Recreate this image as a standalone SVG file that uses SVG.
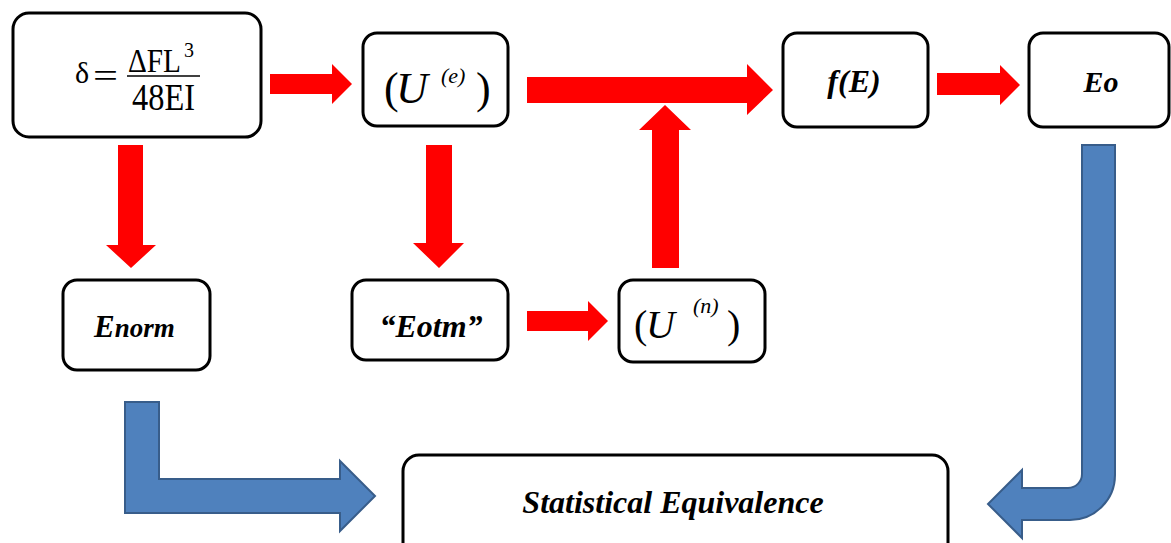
<svg xmlns="http://www.w3.org/2000/svg" width="1171" height="543" viewBox="0 0 1171 543">
<style>
.box{fill:#fff;stroke:#000;stroke-width:3}
.red{fill:#ff0000}
.blue{fill:#4f81bd;stroke:#385d8a;stroke-width:2;stroke-linejoin:miter}
.bi{font-weight:bold;font-style:italic}
.i{font-style:italic}
</style>
<rect width="1171" height="543" fill="#fff"/>
<g id="connectors">
<polygon class="red" points="270,74 332,74 332,64 352,84 332,104 332,94 270,94"/>
<polygon class="red" points="527,77 747,77 747,64 773,90 747,115 747,103 527,103"/>
<polygon class="red" points="937,73 1000,73 1000,65 1020,85 1000,105 1000,95 937,95"/>
<polygon class="red" points="118,145 143,145 143,245 156,245 131,268 106,245 118,245"/>
<polygon class="red" points="426,145 452,145 452,243 464,243 439,268 413,243 426,243"/>
<polygon class="red" points="527,311 588,311 588,301 608,321 588,341 588,331 527,331"/>
<polygon class="red" points="652,268 679,268 679,130 691,130 665,105 639,130 652,130"/>
<path class="blue" d="M125,402 L159,402 L159,479 L340,479 L340,461 L375,496 L340,531 L340,513 L125,513 Z"/>
<path class="blue" d="M1082,145 L1115,145 L1115,475 A45,45 0 0 1 1070,520 L1022,520 L1022,538 L988,504 L1022,470 L1022,488 L1068,488 A14,14 0 0 0 1082,474 Z"/>
</g>
<g id="node-formula" font-family="'Liberation Serif', 'DejaVu Serif', serif" fill="#000">
<rect class="box" x="13" y="13" width="248" height="124" rx="16"/>
<text x="75" y="83" font-size="30">δ</text>
<text x="93" y="87" font-size="34" textLength="25" lengthAdjust="spacingAndGlyphs">=</text>
<text x="128" y="72" font-size="33" textLength="53" lengthAdjust="spacingAndGlyphs">ΔFL</text>
<text x="184" y="57" font-size="22" textLength="10" lengthAdjust="spacingAndGlyphs">3</text>
<line x1="127" y1="76" x2="200" y2="76" stroke="#000" stroke-width="1.5"/>
<text x="132" y="110" font-size="38" textLength="63" lengthAdjust="spacingAndGlyphs">48EI</text>
</g>
<g id="node-ue" font-family="'Liberation Serif', 'DejaVu Serif', serif" fill="#000">
<rect class="box" x="363" y="33" width="145" height="93" rx="14"/>
<text x="384" y="103" font-size="44">(</text>
<text class="i" x="396" y="103" font-size="44">U</text>
<text class="i" x="441" y="83" font-size="22">(e)</text>
<text x="476" y="103" font-size="44">)</text>
</g>
<g id="node-fe" font-family="'Liberation Serif', 'DejaVu Serif', serif" fill="#000">
<rect class="box" x="783" y="33" width="145" height="94" rx="14"/>
<text class="bi" x="854" y="92" font-size="32" text-anchor="middle">f(E)</text>
</g>
<g id="node-eo" font-family="'Liberation Serif', 'DejaVu Serif', serif" fill="#000">
<rect class="box" x="1029" y="33" width="140" height="94" rx="14"/>
<text class="bi" x="1101" y="92" font-size="30" text-anchor="middle">Eo</text>
</g>
<g id="node-enorm" font-family="'Liberation Serif', 'DejaVu Serif', serif" fill="#000">
<rect class="box" x="63" y="280" width="147" height="90" rx="14"/>
<text class="bi" x="94" y="337" font-size="31">E<tspan font-size="27">norm</tspan></text>
</g>
<g id="node-eotm" font-family="'Liberation Serif', 'DejaVu Serif', serif" fill="#000">
<rect class="box" x="352" y="280" width="156" height="80" rx="14"/>
<text class="bi" x="431" y="337" font-size="32" text-anchor="middle">“Eotm”</text>
</g>
<g id="node-un" font-family="'Liberation Serif', 'DejaVu Serif', serif" fill="#000">
<rect class="box" x="619" y="280" width="146" height="82" rx="14"/>
<text x="634" y="338" font-size="40">(</text>
<text class="i" x="646" y="338" font-size="40">U</text>
<text class="i" x="693" y="313" font-size="22">(n)</text>
<text x="727" y="338" font-size="40">)</text>
</g>
<g id="node-stat" font-family="'Liberation Serif', 'DejaVu Serif', serif" fill="#000">
<rect class="box" x="403" y="455" width="545" height="110" rx="16"/>
<text class="bi" x="673" y="513" font-size="32" text-anchor="middle">Statistical Equivalence</text>
</g>
</svg>
